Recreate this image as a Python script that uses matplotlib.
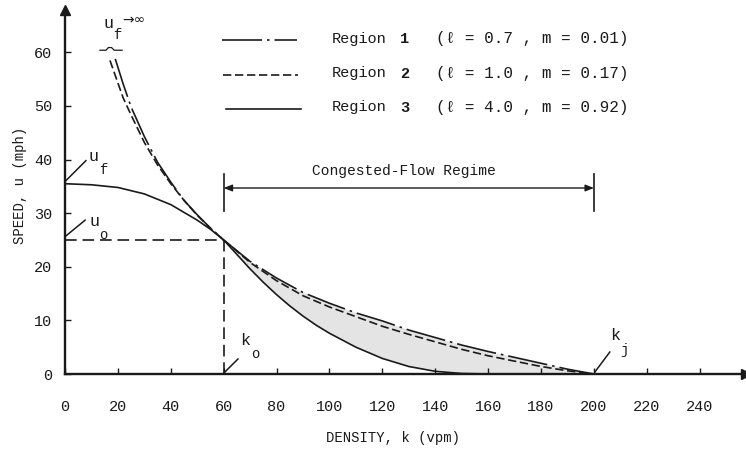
import matplotlib
matplotlib.use('Agg')
import matplotlib.pyplot as plt
from matplotlib.lines import Line2D

W, H = 746, 449
MONO = ['Liberation Mono', 'DejaVu Sans Mono', 'DejaVu Sans']
INK = '#1a1a1a'

# ---------------- data ----------------
k_r1 = [19, 22, 25, 30, 35, 40, 45, 50, 55, 60, 70, 80, 90, 100, 110, 120,
        130, 140, 150, 160, 170, 180, 190, 200]
u_r1 = [58.8, 54.1, 49.8, 44.3, 39.5, 35.8, 32.4, 29.7, 27.2, 25.0, 21.0, 17.9,
        15.2, 13.2, 11.4, 9.9, 8.2, 6.8, 5.4, 4.2, 3.1, 2.0, 0.9, 0.0]

k_r2 = [17, 20, 22, 25, 30, 35, 40, 45, 50, 55, 60, 70, 80, 90, 100, 110, 120,
        130, 140, 150, 160, 170, 180, 190, 200]
u_r2 = [58.5, 54.3, 51.5, 48.3, 43.2, 39.0, 35.5, 32.4, 29.6, 27.2, 25.0, 20.8,
        17.4, 14.6, 12.5, 10.7, 8.9, 7.4, 6.0, 4.6, 3.4, 2.4, 1.4, 0.6, 0.0]

k_r3 = [0, 10, 20, 30, 40, 50, 55, 60, 65, 70, 75, 80, 85, 90, 95, 100, 110,
        120, 130, 140, 150, 160]
u_r3 = [35.5, 35.3, 34.8, 33.6, 31.6, 28.7, 27.0, 25.0, 22.3, 19.6, 17.1, 14.8,
        12.7, 10.8, 9.1, 7.6, 5.0, 2.9, 1.4, 0.5, 0.1, 0.0]

k_o, u_o, k_j = 60, 25, 200
x_ticks = [0, 20, 40, 60, 80, 100, 120, 140, 160, 180, 200, 220, 240]
y_ticks = [0, 10, 20, 30, 40, 50, 60]
legend_names = ['Region', 'Region', 'Region']
legend_nums = ['1', '2', '3']
legend_params = ['(\u2113 = 0.7 , m = 0.01)',
                 '(\u2113 = 1.0 , m = 0.17)',
                 '(\u2113 = 4.0 , m = 0.92)']

# ---------------- figure ----------------
fig = plt.figure(figsize=(W / 100, H / 100), dpi=100)
fig.patch.set_facecolor('white')
ax = fig.add_axes([65 / W, 1 - 374 / H, 681 / W, 364.5 / H])
ax.set_xlim(0, 257.5)
ax.set_ylim(0, 68)

def px(x, y):
    return (x / W, 1 - y / H)

ls_r1 = (0, (24, 3, 1.5, 3))
ls_r2 = (0, (5, 2.2))
LW = 1.2

# shaded congested band between region 1 (upper) and region 3 (lower)
up_k = [k for k in k_r1 if k >= 60]
up_u = [u for k, u in zip(k_r1, u_r1) if k >= 60]
lo_k = [k for k in k_r3 if k >= 60]
lo_u = [u for k, u in zip(k_r3, u_r3) if k >= 60]
ax.fill(up_k + [200] + lo_k[::-1], up_u + [0] + lo_u[::-1],
        color='#e4e4e4', lw=0, zorder=1)

ax.plot(k_r1, u_r1, color=INK, lw=LW, ls=ls_r1, zorder=3)
ax.plot(k_r2, u_r2, color=INK, lw=LW, ls=ls_r2, zorder=3)
ax.plot(k_r3, u_r3, color=INK, lw=LW, ls='-', zorder=3)

# reference lines u_o / k_o
ax.plot([0, k_o], [u_o, u_o], color=INK, lw=1.2, ls=(0, (7, 3.5)), zorder=2)
ax.plot([k_o, k_o], [0, u_o], color=INK, lw=1.2, ls=(0, (7, 3.5)), zorder=2)

# axes styling
for s in ['top', 'right']:
    ax.spines[s].set_visible(False)
for s in ['left', 'bottom']:
    ax.spines[s].set_linewidth(1.7)
    ax.spines[s].set_color(INK)
ax.set_xticks(x_ticks)
ax.set_yticks(y_ticks)
ax.set_xticklabels([str(v) for v in x_ticks])
ax.set_yticklabels([str(v) for v in y_ticks])
ax.tick_params(axis='both', direction='in', length=4, width=1, colors=INK,
               labelsize=11)
ax.tick_params(axis='x', pad=19)
ax.tick_params(axis='y', pad=9)
for lab in ax.get_xticklabels() + ax.get_yticklabels():
    lab.set_family(MONO)
ax.plot(0, 1, marker='^', color=INK, ms=7, transform=ax.transAxes, clip_on=False)
ax.plot(1, 0, marker='>', color=INK, ms=7, transform=ax.transAxes, clip_on=False)

fig.text(*px(20, 185), 'SPEED, u (mph)', rotation=90, ha='center', va='center',
         fontsize=10, family=MONO, color=INK)
fig.text(*px(393, 438), 'DENSITY, k (vpm)', ha='center', va='center',
         fontsize=10, family=MONO, color=INK)

# congested-flow regime bracket
ax.plot([60, 60], [30.4, 37.3], color=INK, lw=1.2)
ax.plot([200, 200], [30.4, 37.3], color=INK, lw=1.2)
ax.annotate('', xy=(60, 34.7), xytext=(200, 34.7),
            arrowprops=dict(arrowstyle='<|-|>,head_length=0.5,head_width=0.2',
                            color=INK, lw=1.0, shrinkA=0, shrinkB=0))
ax.text(128, 37.8, 'Congested-Flow Regime', ha='center', va='center',
        fontsize=10.5, family=MONO, color=INK)

# annotations
def lbl(k, u, s, size=12):
    ax.text(k, u, s, ha='center', va='center', fontsize=size, family=MONO, color=INK)

# u_f
ax.plot([0.2, 7.9], [36.0, 39.8], color=INK, lw=1.1)
lbl(10.7, 40.6, 'u')
lbl(14.3, 38.0, 'f', 10)
# u_o
ax.plot([0.2, 7.6], [25.7, 28.7], color=INK, lw=1.1)
lbl(11.0, 28.5, 'u')
lbl(14.6, 26.0, 'o', 10)
# k_o
ax.plot([60.1, 65.4], [0.2, 2.8], color=INK, lw=1.1)
lbl(68.2, 6.2, 'k')
lbl(71.8, 3.7, 'o', 10)
# k_j
ax.plot([200.4, 206.0], [0.4, 4.1], color=INK, lw=1.1)
lbl(208.2, 7.1, 'k')
lbl(211.6, 4.4, 'j', 10)
# u_f -> infinity
lbl(16.4, 65.3, 'u')
lbl(19.9, 63.2, 'f', 10)
ax.text(26.0, 66.0, '\u2192\u221e', ha='center', va='center', fontsize=10,
        family=['DejaVu Sans'], color=INK)
ax.plot([13.2, 15.5, 16.4, 17.6, 18.6, 21.6],
        [60.4, 60.4, 60.9, 60.9, 60.4, 60.4], color=INK, lw=0.9, clip_on=False)

# legend
ys = [40, 74.5, 108.5]
styles = [ls_r1, ls_r2, '-']
xs0 = [222, 223, 226]
for y, st, x0, name, num, par in zip(ys, styles, xs0, legend_names,
                                     legend_nums, legend_params):
    (a0, b0), (a1, b1) = px(x0, y), px(x0 + 75, y)
    fig.add_artist(Line2D([a0, a1], [b0, b1], color=INK, lw=LW, ls=st))
    fig.text(*px(332, y - 1), name, ha='left', va='center', fontsize=11,
             family=MONO, color=INK)
    fig.text(*px(400, y - 1), num, ha='left', va='center', fontsize=11,
             family=MONO, color=INK, weight='bold')
    fig.text(*px(436, y - 1), par, ha='left', va='center', fontsize=11.5,
             family=MONO, color=INK)

fig.savefig('out.png', dpi=100, facecolor='white')
